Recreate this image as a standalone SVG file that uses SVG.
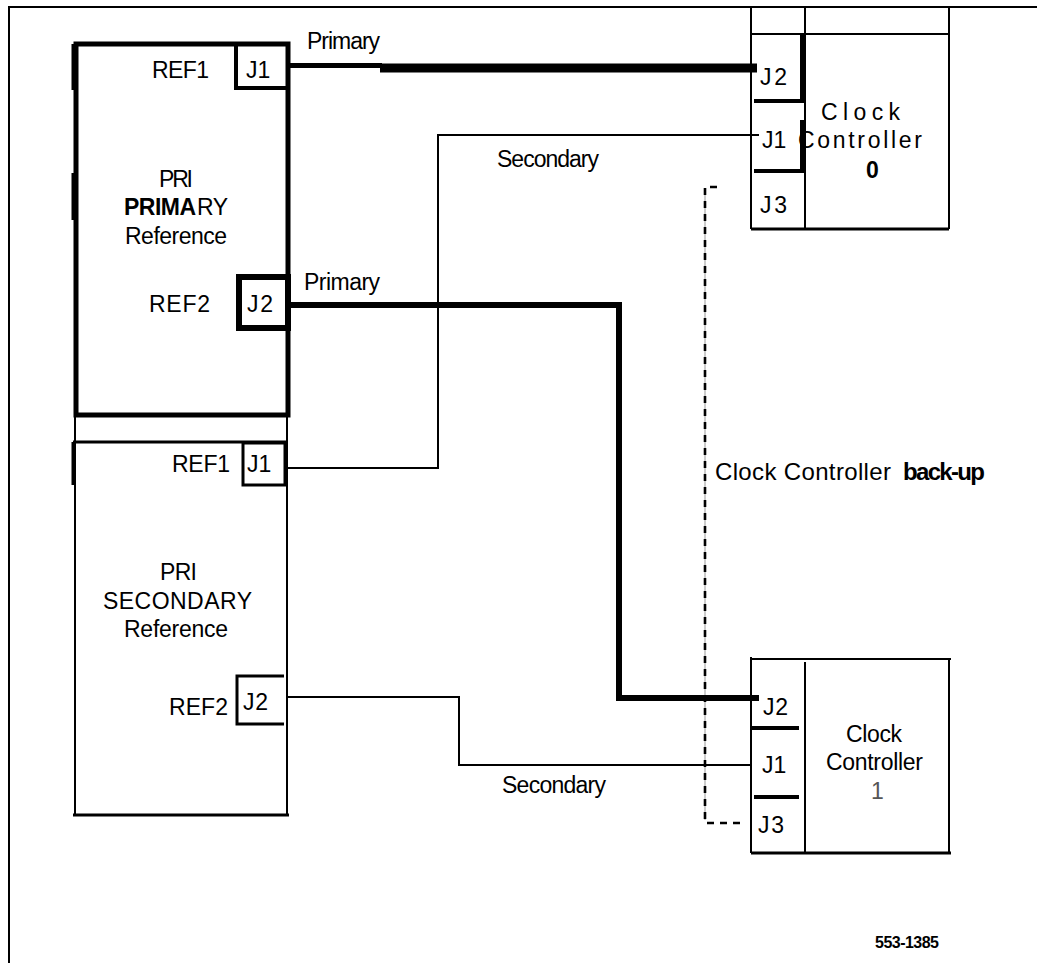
<svg xmlns="http://www.w3.org/2000/svg" width="1037" height="963" viewBox="0 0 1037 963">
<style>
text{font-family:"Liberation Sans",Arial,sans-serif;font-size:23px;fill:#000}
.b{font-weight:bold}
.ln{fill:none;stroke:#000;stroke-linecap:butt;stroke-linejoin:miter}
.thin{stroke-width:2}
.mid{stroke-width:3}
.thk{stroke-width:5}
.dash{fill:none;stroke:#000;stroke-width:2.6;stroke-dasharray:7 6}
</style>
<rect width="1037" height="963" fill="#fff"/>
<g id="frame">
<path class="ln thin" d="M9,963 V7 H1037"/>
</g>
<g id="pri-primary">
<rect class="ln thk" x="76" y="44" width="212" height="371"/>
<path class="ln mid" d="M73,44 V90 M73,173 V220"/>
<rect class="ln" style="stroke-width:4" x="236" y="44" width="52" height="44"/>
<rect class="ln" style="stroke-width:6" x="239" y="277" width="49" height="51"/>
<text x="152" y="78" textLength="57">REF1</text>
<text x="246" y="78">J1</text>
<text x="159" y="187" textLength="34">PRI</text>
<text x="124" y="215" class="b" textLength="72">PRIMA</text>
<text x="197" y="215" textLength="31">RY</text>
<text x="125" y="244" textLength="102">Reference</text>
<text x="149" y="312" textLength="61">REF2</text>
<text x="247" y="312" textLength="26">J2</text>
</g>
<g id="pri-secondary">
<path class="ln thin" d="M75,415 V815 M287,415 V815"/>
<path class="ln mid" d="M73,442 H287 M73,815 H289 M73,442 V485"/>
<rect class="ln mid" x="243" y="443" width="42" height="42"/>
<path class="ln mid" d="M284,676 H237 V724 H284"/>
<text x="172" y="472" textLength="58">REF1</text>
<text x="247" y="472">J1</text>
<text x="160" y="580" textLength="37">PRI</text>
<text x="103" y="609" textLength="149">SECONDARY</text>
<text x="124" y="637" textLength="104">Reference</text>
<text x="169" y="715" textLength="59">REF2</text>
<text x="243" y="710" textLength="25">J2</text>
</g>
<g id="clock-controller-0">
<path class="ln thin" d="M751,7 V229 M805,7 V229 M949,7 V229 M751,34 H949"/>
<path class="ln mid" d="M751,229 H949"/>
<path class="ln" style="stroke-width:4" d="M802,35 V101 H754 M802,120 V171 H754"/>
<text x="760" y="85" textLength="27">J2</text>
<text x="762" y="148">J1</text>
<text x="760" y="213" textLength="27">J3</text>
<text x="821" y="120" textLength="79">Clock</text>
<text x="798" y="148" textLength="124">Controller</text>
<text x="866" y="178" class="b">0</text>
</g>
<g id="clock-controller-1">
<path class="ln thin" d="M751,657 V853 M949,659 V853 M805,662 V853 M751,659 H951"/>
<path class="ln mid" d="M751,853 H951"/>
<path class="ln" style="stroke-width:4" d="M752,728 H799 M754,797 H799"/>
<text x="763" y="715" textLength="25">J2</text>
<text x="762" y="773">J1</text>
<text x="758" y="833" textLength="26">J3</text>
<text x="846" y="742" textLength="56">Clock</text>
<text x="826" y="770" textLength="97">Controller</text>
<text x="871" y="799" style="fill:#555">1</text>
</g>
<g id="connectors">
<path class="ln thk" d="M290,65.5 H382"/>
<path class="ln" style="stroke-width:9" d="M380,68 H757"/>
<path class="ln thin" d="M759,135 H438 V468 H288"/>
<path class="ln" style="stroke-width:6" d="M290,305 H619 V698 H759"/>
<path class="ln thin" d="M287,697 H459 V765 H751"/>
<path class="ln" style="stroke:#999;stroke-width:1" d="M705,190 V820"/>
<path class="dash" d="M717,187 H705 V823 H745"/>
</g>
<g id="labels">
<text x="307" y="49" textLength="73">Primary</text>
<text x="304" y="290" textLength="76">Primary</text>
<text x="497" y="167" textLength="102">Secondary</text>
<text x="502" y="793" textLength="104">Secondary</text>
<text x="715" y="480" style="font-size:24px" textLength="176">Clock Controller</text>
<text x="903" y="480" style="font-size:24px" class="b" textLength="82">back-up</text>
<text x="875" y="948" style="font-size:16px" class="b" textLength="64">553-1385</text>
</g>
</svg>
